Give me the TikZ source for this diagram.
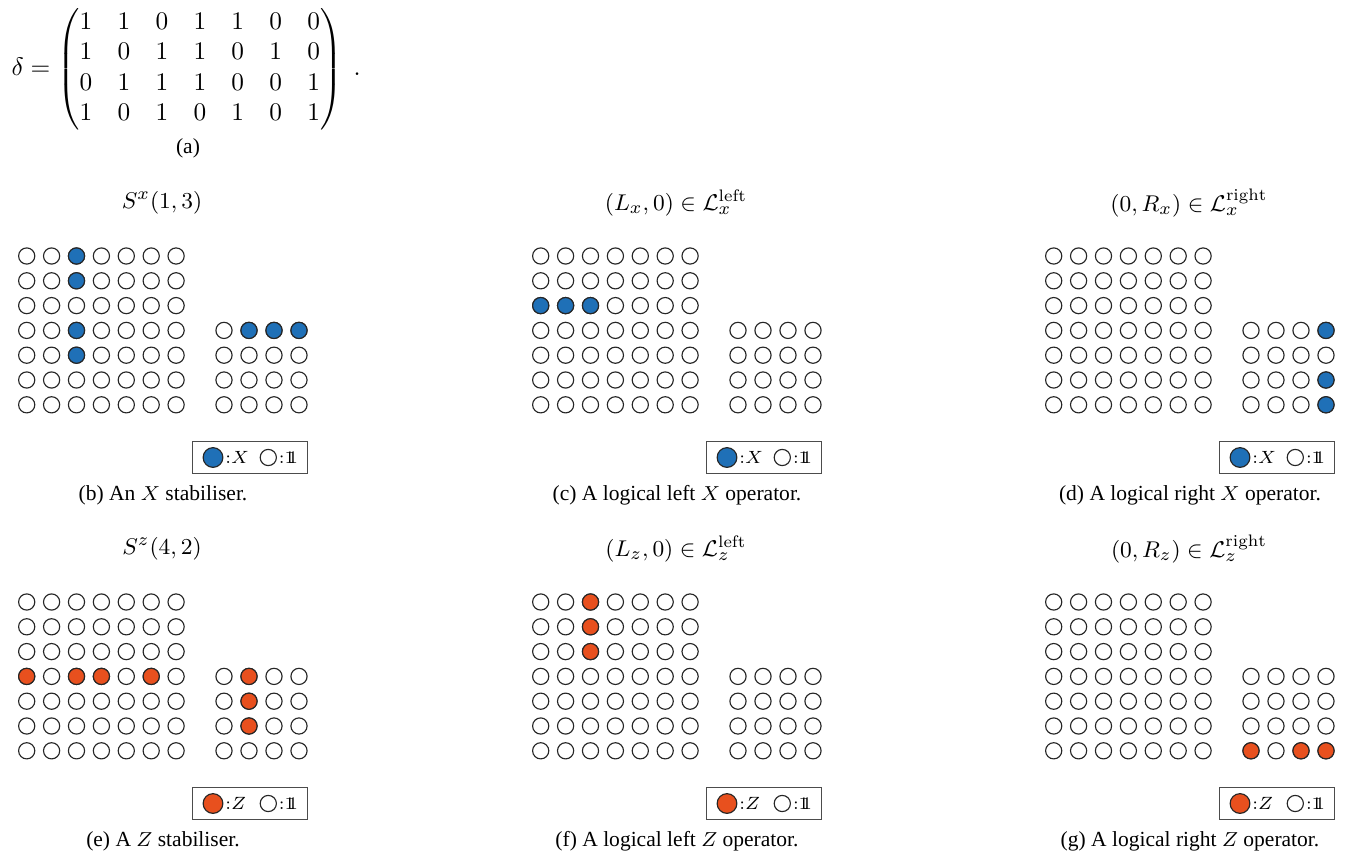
\documentclass[tikz,border=0pt]{standalone}
\usepackage{amsmath}
\usepackage{amssymb}
\usepackage{fontspec}
\newfontfamily\capfont{Liberation Serif}
\usetikzlibrary{positioning}

\definecolor{xblue}{RGB}{31,112,183}
\definecolor{zred}{RGB}{232,80,30}
\newcommand{\idop}{\mathrm{1\!\!1}}

% #1 name, #2/#3 shift, #4 colour, #5 coloured qubits, #6 title, #7 caption, #8 operator
\newcommand{\stabpanel}[8]{%
  \begin{scope}[shift={(#2,#3)}]
    \node[title] (#1-title) at (162,203) {#6};
    \foreach \cx in {1,...,7}
      \foreach \ry in {1,...,7}
        \node[qubit] (#1-l-\cx-\ry) at ({26.7+24.9*(\cx-1)},{256+24.8*(\ry-1)}) {};
    \foreach \cx in {1,...,4}
      \foreach \ry in {4,...,7}
        \node[qubit] (#1-r-\cx-\ry) at ({224+25*(\cx-1)},{256+24.8*(\ry-1)}) {};
    \foreach \q in {#5}
      \node[qubit, fill=#4] at (#1-\q) {};
    % legend
    \node[key] (#1-key) at (250,457.5) {};
    \node[qubit, fill=#4, minimum size=7.8pt] (#1-kop) at (213,457.5) {};
    \node[keytext, right=0.6pt of #1-kop] (#1-kopt) {:$#8$};
    \node[qubit] (#1-kid) at (268.3,457.5) {};
    \node[keytext, right=0.6pt of #1-kid] (#1-kidt) {:$\idop$};
    \node[caption] (#1-cap) at (163,495) {#7};
  \end{scope}}

\begin{document}
\begin{tikzpicture}[x=0.395pt, y=-0.395pt,
    every node/.style={inner sep=0pt},
    qubit/.style={draw=black!85, circle, line width=0.45pt, minimum size=6.4pt, fill=white},
    key/.style={draw=black!70, line width=0.45pt, minimum width=45.6pt, minimum height=12.5pt},
    keytext/.style={font=\scriptsize},
    title/.style={font=\fontsize{9.4}{11}\selectfont},
    caption/.style={font=\capfont\fontsize{8.5}{10}\selectfont}]
    \useasboundingbox (0,0) rectangle (1359,856);

    \node[anchor=west] (delta) at (11,69) {$\delta = \begin{pmatrix}
        1 & 1 & 0 & 1 & 1 & 0 & 0\\
        1 & 0 & 1 & 1 & 0 & 1 & 0\\
        0 & 1 & 1 & 1 & 0 & 0 & 1\\
        1 & 0 & 1 & 0 & 1 & 0 & 1
      \end{pmatrix}\;.$};
    \node[caption] (a-cap) at (188,148) {(a)};

    % X row
    \stabpanel{b}{0}{0}{xblue}{l-3-1,l-3-2,l-3-4,l-3-5,r-2-4,r-3-4,r-4-4}{$S^x(1,3)$}{(b) An $X$ stabiliser.}{X}
    \stabpanel{c}{514}{0}{xblue}{l-1-3,l-2-3,l-3-3}{$(L_x,0)\in\mathcal{L}_x^{\mathrm{left}}$}{(c) A logical left $X$ operator.}{X}
    \stabpanel{d}{1027}{0}{xblue}{r-4-4,r-4-6,r-4-7}{$(0,R_x)\in\mathcal{L}_x^{\mathrm{right}}$}{(d) A logical right $X$ operator.}{X}

    % Z row
    \stabpanel{e}{0}{346}{zred}{l-1-4,l-3-4,l-4-4,l-6-4,r-2-4,r-2-5,r-2-6}{$S^z(4,2)$}{(e) A $Z$ stabiliser.}{Z}
    \stabpanel{f}{514}{346}{zred}{l-3-1,l-3-2,l-3-3}{$(L_z,0)\in\mathcal{L}_z^{\mathrm{left}}$}{(f) A logical left $Z$ operator.}{Z}
    \stabpanel{g}{1027}{346}{zred}{r-1-7,r-3-7,r-4-7}{$(0,R_z)\in\mathcal{L}_z^{\mathrm{right}}$}{(g) A logical right $Z$ operator.}{Z}
\end{tikzpicture}
\end{document}
